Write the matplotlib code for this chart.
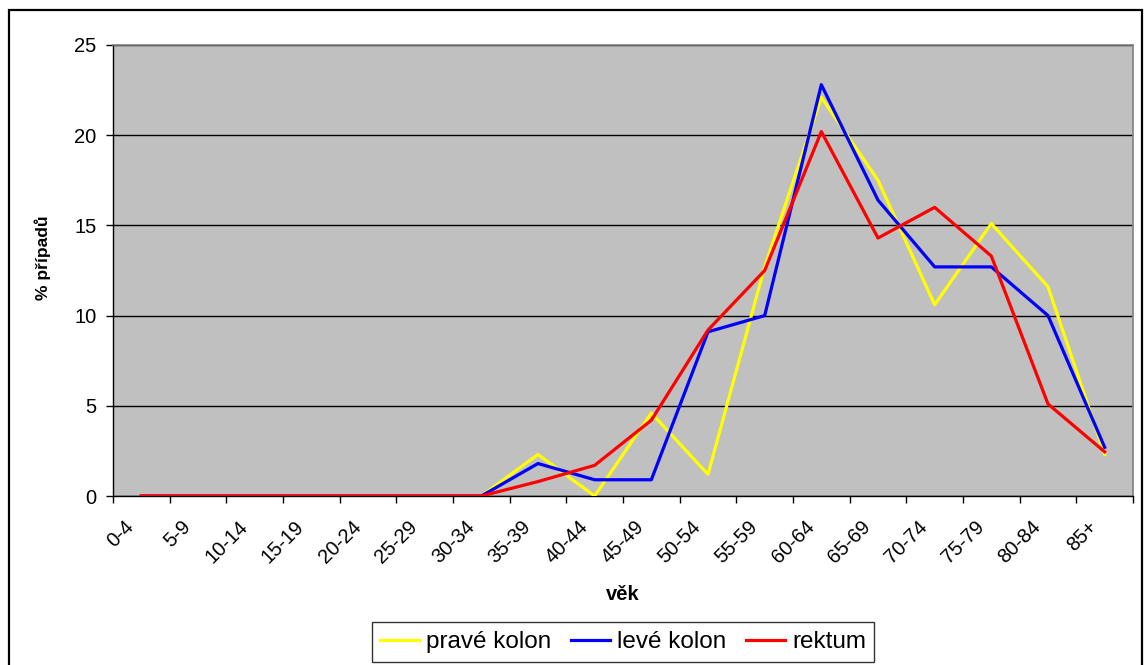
import matplotlib.pyplot as plt
from matplotlib.patches import Rectangle
from matplotlib.transforms import ScaledTranslation
import numpy as np

age_groups = ["0-4", "5-9", "10-14", "15-19", "20-24", "25-29", "30-34", "35-39",
              "40-44", "45-49", "50-54", "55-59", "60-64", "65-69", "70-74",
              "75-79", "80-84", "85+"]

prave_kolon = [0, 0, 0, 0, 0, 0, 0, 2.3, 0, 4.6, 1.2, 12.7, 22.1, 17.5, 10.6, 15.1, 11.6, 2.3]
leve_kolon = [0, 0, 0, 0, 0, 0, 0, 1.8, 0.9, 0.9, 9.1, 10.0, 22.8, 16.4, 12.7, 12.7, 10.0, 2.7]
rektum = [0, 0, 0, 0, 0, 0, 0, 0.8, 1.7, 4.2, 9.2, 12.5, 20.2, 14.3, 16.0, 13.3, 5.1, 2.45]

FONT = "Liberation Sans"

fig = plt.figure(figsize=(11.44, 6.65), dpi=100)
fig.patch.set_facecolor("white")
ax = fig.add_axes([113 / 1144, 1 - 496 / 665, 1020 / 1144, 451 / 665])
ax.set_facecolor("#C0C0C0")

x = np.arange(len(age_groups))
ax.plot(x, prave_kolon, color="#FFFF00", lw=2.3, label="pravé kolon", zorder=3)
ax.plot(x, leve_kolon, color="#0000FF", lw=2.3, label="levé kolon", zorder=4)
ax.plot(x, rektum, color="#FF0000", lw=2.3, label="rektum", zorder=5)

ax.set_xlim(-0.5, len(age_groups) - 0.5)
ax.set_ylim(0, 25)
ax.set_yticks([0, 5, 10, 15, 20, 25])
ax.yaxis.grid(True, color="black", lw=1)
ax.set_axisbelow(True)

# category labels in the middle, tick marks between categories
ax.set_xticks(x)
ax.set_xticks(np.arange(-0.5, len(age_groups)), minor=True)
ax.tick_params(axis="x", which="major", length=0, pad=20)
ax.tick_params(axis="x", which="minor", length=5, direction="out", width=1)
ax.tick_params(axis="y", length=5, direction="out", width=1, labelsize=14.5, pad=7)
ax.set_xticklabels(age_groups, rotation=45, ha="right", va="center",
                   rotation_mode="anchor", fontsize=14.5, family=FONT)
shift = ScaledTranslation(-10 / 100, 0, fig.dpi_scale_trans)
for lab in ax.get_xticklabels():
    lab.set_transform(lab.get_transform() + shift)
for lab in ax.get_yticklabels():
    lab.set_family(FONT)

for s in ["left", "bottom"]:
    ax.spines[s].set_color("black")
    ax.spines[s].set_linewidth(1)
for s in ["top", "right"]:
    ax.spines[s].set_color("#808080")
    ax.spines[s].set_linewidth(1.2)

ax.set_xlabel("věk", fontsize=14.5, fontweight="bold", family=FONT, va="baseline")
ax.xaxis.set_label_coords(0.5, (496 - 600) / 451)
ax.set_ylabel("% případů", fontsize=12.5, fontweight="bold", family=FONT, va="center")
ax.yaxis.set_label_coords((42.5 - 113) / 1020, (496 - 258) / 451)

leg = fig.legend(loc="center", bbox_to_anchor=(623 / 1144, 1 - 642 / 665), ncol=3,
                 prop={"family": FONT, "size": 17.5}, frameon=True,
                 fancybox=False, edgecolor="black", handlelength=1.6,
                 handletextpad=0.3, columnspacing=0.8, borderpad=0.35)
leg.get_frame().set_linewidth(1)

# outer chart border
fig.patches.append(Rectangle((9 / 1144, -0.05), 1133 / 1144, 1 + 0.05 - 10 / 665,
                             transform=fig.transFigure, fill=False,
                             edgecolor="black", lw=1.6))

fig.savefig("out.png", dpi=100)
